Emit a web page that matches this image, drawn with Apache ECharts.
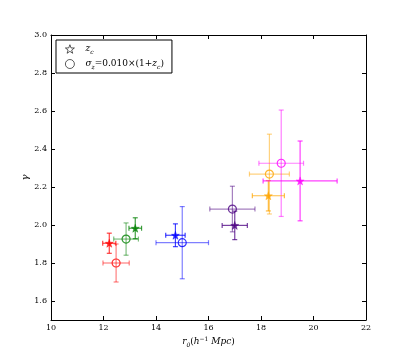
<!DOCTYPE html>
<html>
<head>
<meta charset="utf-8">
<script src="https://cdn.jsdelivr.net/npm/echarts@6/dist/echarts.min.js"></script>
<style>
  html, body { margin: 0; padding: 0; background: #fff; }
  #chart { width: 407px; height: 357px; }
</style>
</head>
<body>
<div id="chart"></div>
<script>
// one colour per sample, stars and circles share them
const colors = ['#ff0000', '#008000', '#0000ff', '#4b0082', '#ffa500', '#ff00ff']

// z_c points
const starR0 = [12.22, 13.21, 14.74, 17.0, 18.28, 19.49]
const starGamma = [1.904, 1.983, 1.946, 1.998, 2.154, 2.232]
const starR0Err = [0.25, 0.24, 0.37, 0.48, 0.61, 1.41]
const starGammaErr = [0.053, 0.055, 0.06, 0.075, 0.08, 0.21]

// sigma_z points
const circR0 = [12.48, 12.86, 15.0, 16.91, 18.32, 18.77]
const circGamma = [1.8, 1.926, 1.907, 2.084, 2.268, 2.325]
const circR0Err = [0.5, 0.47, 1.0, 0.86, 0.76, 0.85]
const circGammaErr = [0.1, 0.085, 0.19, 0.12, 0.21, 0.28]

const xTicks = [10, 12, 14, 16, 18, 20, 22]
const yTicks = [1.6, 1.8, 2.0, 2.2, 2.4, 2.6, 2.8, 3.0]

const starPath = 'path://M0,-10L2.35,-3.24L9.51,-3.09L3.8,1.24L5.88,8.09L0,4L-5.88,8.09L-3.8,1.24L-9.51,-3.09L-2.35,-3.24Z'
const serif = 'DejaVu Serif'

function errorBars(xs, ys, xe, ye, alpha) {
  return {
    type: 'custom',
    z: 1,
    silent: true,
    data: xs.map((x, i) => [x, ys[i], xe[i], ye[i], i]),
    encode: { x: 0, y: 1 },
    renderItem(params, api) {
      const x = api.value(0), y = api.value(1)
      const dx = api.value(2), dy = api.value(3)
      const c = colors[api.value(4)]
      const l = api.coord([x - dx, y])
      const r = api.coord([x + dx, y])
      const t = api.coord([x, y + dy])
      const b = api.coord([x, y - dy])
      const cap = 2.5
      const style = { stroke: c, lineWidth: 1.2, opacity: alpha }
      const seg = (x1, y1, x2, y2) => ({ type: 'line', shape: { x1, y1, x2, y2 }, style })
      return {
        type: 'group',
        children: [
          seg(l[0], l[1], r[0], r[1]),
          seg(t[0], t[1], b[0], b[1]),
          seg(l[0], l[1] - cap, l[0], l[1] + cap),
          seg(r[0], r[1] - cap, r[0], r[1] + cap),
          seg(t[0] - cap, t[1], t[0] + cap, t[1]),
          seg(b[0] - cap, b[1], b[0] + cap, b[1]),
        ],
      }
    },
  }
}

const axisLine = { show: true, lineStyle: { color: '#000', width: 1 } }
const labelFont = { color: '#000', fontFamily: serif, fontSize: 8 }
const rich = {
  i: { fontFamily: serif, fontStyle: 'italic', fontSize: 9, color: '#000' },
  n: { fontFamily: serif, fontSize: 9, color: '#000' },
  s: { fontFamily: serif, fontStyle: 'italic', fontSize: 6, color: '#000', verticalAlign: 'bottom', padding: [5, 0, 0, 0] },
  sup: { fontFamily: serif, fontSize: 6, color: '#000', padding: [0, 0, 6, 0] },
}

const chart = echarts.init(document.getElementById('chart'))
chart.setOption({
  animation: false,
  backgroundColor: '#fff',
  grid: { left: 51, right: 41, top: 35, bottom: 37 },
  legend: {
    left: 56,
    top: 40,
    orient: 'vertical',
    padding: [3, 8, 3, 9],
    itemGap: 3,
    itemWidth: 9,
    itemHeight: 9,
    borderColor: '#000',
    borderWidth: 1,
    borderRadius: 0,
    data: [
      { name: 'zc', icon: starPath, itemStyle: { color: '#fff', borderColor: '#000', borderWidth: 0.8 } },
      { name: 'sigma', icon: 'circle', itemStyle: { color: '#fff', borderColor: '#000', borderWidth: 0.8 } },
    ],
    formatter: (name) => name === 'zc'
      ? '{g|}{i|z}{s|c}'
      : '{g|}{i|σ}{s|z}{n|=0.010×(1+}{i|z}{s|c}{n|)}',
    textStyle: { rich: Object.assign({ g: { width: 6 } }, rich) },
  },
  xAxis: [
    {
      type: 'value', min: 10, max: 22,
      axisLine, splitLine: { show: false },
      axisTick: { inside: true, length: 4, customValues: xTicks, lineStyle: { color: '#000' } },
      axisLabel: Object.assign({ margin: 4, customValues: xTicks }, labelFont),
      name: '{i|r}{s|0}{n|(}{i|h}{sup|−1}{i| Mpc}{n|)}',
      nameLocation: 'middle', nameGap: 16, nameMoveOverlap: false,
      nameTextStyle: { rich },
    },
    {
      type: 'value', min: 10, max: 22, position: 'top',
      axisLine, splitLine: { show: false },
      axisTick: { inside: true, length: 4, customValues: xTicks, lineStyle: { color: '#000' } },
      axisLabel: { show: false },
    },
  ],
  yAxis: [
    {
      type: 'value', min: 1.5, max: 3.0,
      axisLine, splitLine: { show: false },
      axisTick: { inside: true, length: 4, customValues: yTicks, lineStyle: { color: '#000' } },
      axisLabel: Object.assign({ margin: 4, customValues: yTicks, formatter: (v) => v.toFixed(1) }, labelFont),
      name: 'γ',
      nameLocation: 'middle', nameGap: 21, nameMoveOverlap: false,
      nameTextStyle: { fontFamily: serif, fontStyle: 'italic', fontSize: 10, color: '#000' },
    },
    {
      type: 'value', min: 1.5, max: 3.0, position: 'right',
      axisLine, splitLine: { show: false },
      axisTick: { inside: true, length: 4, customValues: yTicks, lineStyle: { color: '#000' } },
      axisLabel: { show: false },
    },
  ],
  series: [
    errorBars(circR0, circGamma, circR0Err, circGammaErr, 0.5),
    errorBars(starR0, starGamma, starR0Err, starGammaErr, 0.75),
    {
      name: 'sigma',
      type: 'scatter',
      z: 3,
      symbol: 'circle',
      symbolSize: 8,
      data: circR0.map((x, i) => ({
        value: [x, circGamma[i]],
        itemStyle: { color: 'rgba(0,0,0,0)', borderColor: colors[i], borderWidth: 1.2 },
      })),
    },
    {
      name: 'zc',
      type: 'scatter',
      z: 4,
      symbol: starPath,
      symbolSize: 8,
      data: starR0.map((x, i) => ({
        value: [x, starGamma[i]],
        itemStyle: { color: colors[i], borderColor: colors[i], borderWidth: 0.5 },
      })),
    },
  ],
})
</script>
</body>
</html>
